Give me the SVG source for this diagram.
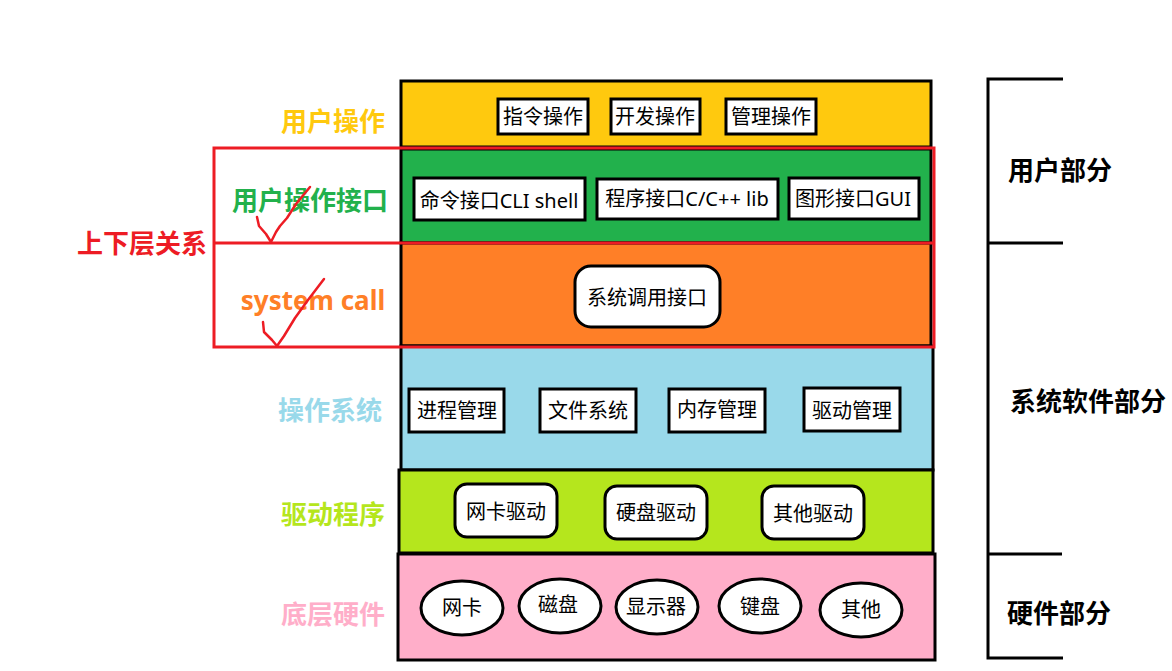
<svg xmlns="http://www.w3.org/2000/svg" width="1172" height="671" viewBox="0 0 1172 671">
<style>
text{font-family:"Noto Sans","Noto Sans CJK SC",sans-serif;dominant-baseline:central;text-anchor:middle}
.lbl{font-size:26px;font-weight:bold}
.bt{font-size:20px;fill:#000}
.box{fill:#fff;stroke:#000;stroke-width:3}
.layer{stroke:#000;stroke-width:3}
.part{font-size:26px;font-weight:bold;fill:#000;text-anchor:start}
.br{stroke:#000;stroke-width:3;fill:none}
.red{stroke:#ED1C24;stroke-width:3;fill:none}
.chk{stroke:#ED1C24;stroke-width:2.5;fill:none;stroke-linejoin:round;stroke-linecap:round}
</style>
<rect width="1172" height="671" fill="#fff"/>

<g id="layer-user">
<rect class="layer" x="401" y="81" width="530" height="66" fill="#FFC90E"/>
<text class="lbl" x="333" y="121" fill="#FFC90E">用户操作</text>
<rect class="box" x="498" y="99" width="90" height="35"/><text class="bt" x="543" y="116">指令操作</text>
<rect class="box" x="611" y="99" width="89" height="35"/><text class="bt" x="655" y="116">开发操作</text>
<rect class="box" x="726" y="99" width="90" height="35"/><text class="bt" x="771" y="116">管理操作</text>
</g>

<g id="layer-ui">
<rect class="layer" x="401" y="149" width="530" height="94" fill="#22B14C"/>
<text class="lbl" x="310" y="200" fill="#22B14C">用户操作接口</text>
<rect class="box" x="414" y="178" width="171" height="42"/><text class="bt" x="499" y="200">命令接口CLI shell</text>
<rect class="box" x="597" y="179" width="181" height="40"/><text class="bt" x="687" y="198">程序接口C/C++ lib</text>
<rect class="box" x="789" y="178" width="130" height="41"/><text class="bt" x="853" y="198">图形接口GUI</text>
</g>

<g id="layer-syscall">
<rect class="layer" x="401" y="243" width="530" height="103" fill="#FF7F27"/>
<text class="lbl" x="313" y="300" fill="#FF7F27">system call</text>
<rect class="box" x="575" y="266" width="145" height="61" rx="16"/><text class="bt" x="647" y="297">系统调用接口</text>
</g>

<g id="layer-os">
<rect class="layer" x="401" y="346" width="532" height="124" fill="#99D9EA"/>
<text class="lbl" x="330" y="410" fill="#99D9EA">操作系统</text>
<rect class="box" x="409" y="389" width="95" height="43"/><text class="bt" x="457" y="410">进程管理</text>
<rect class="box" x="540" y="389" width="96" height="43"/><text class="bt" x="588" y="410">文件系统</text>
<rect class="box" x="669" y="389" width="96" height="43"/><text class="bt" x="717" y="409">内存管理</text>
<rect class="box" x="804" y="388" width="96" height="43"/><text class="bt" x="852" y="410">驱动管理</text>
</g>

<g id="layer-driver">
<rect class="layer" x="399" y="470" width="534" height="83" fill="#B5E61D"/>
<text class="lbl" x="333" y="514" fill="#B5E61D">驱动程序</text>
<rect class="box" x="455" y="484" width="102" height="53" rx="12"/><text class="bt" x="506" y="511">网卡驱动</text>
<rect class="box" x="605" y="486" width="102" height="53" rx="12"/><text class="bt" x="656" y="512">硬盘驱动</text>
<rect class="box" x="762" y="486" width="102" height="53" rx="12"/><text class="bt" x="813" y="513">其他驱动</text>
</g>

<g id="layer-hw">
<rect class="layer" x="398" y="554" width="537" height="106" fill="#FFAEC9"/>
<text class="lbl" x="333" y="614" fill="#FFAEC9">底层硬件</text>
<ellipse class="box" cx="462" cy="608" rx="41" ry="27"/><text class="bt" x="462" y="607">网卡</text>
<ellipse class="box" cx="560" cy="606" rx="41" ry="27"/><text class="bt" x="558" y="604">磁盘</text>
<ellipse class="box" cx="657" cy="607" rx="41" ry="27"/><text class="bt" x="656" y="606">显示器</text>
<ellipse class="box" cx="760" cy="606" rx="41" ry="27"/><text class="bt" x="760" y="606">键盘</text>
<ellipse class="box" cx="861" cy="610" rx="41" ry="27"/><text class="bt" x="861" y="609">其他</text>
</g>

<g id="relation">
<rect class="red" x="214" y="148" width="720" height="199"/>
<line class="red" x1="214" y1="243" x2="934" y2="243"/>
<text class="lbl" x="142" y="243" fill="#ED1C24">上下层关系</text>
<polyline class="chk" points="257,217 259,226 266,234 271,242 276,232 280,226 287,218 296,204 310,187"/>
<polyline class="chk" points="263,322 264,332 272,340 277,346 284,336 295,318 308,300 324,279"/>
</g>

<g id="parts">
<polyline class="br" points="1063,79 988,79 988,658 1063,658"/>
<line class="br" x1="988" y1="243" x2="1063" y2="243"/>
<line class="br" x1="988" y1="554" x2="1062" y2="554"/>
<text class="part" x="1008" y="170">用户部分</text>
<text class="part" x="1010" y="401">系统软件部分</text>
<text class="part" x="1007" y="613">硬件部分</text>
</g>
</svg>
